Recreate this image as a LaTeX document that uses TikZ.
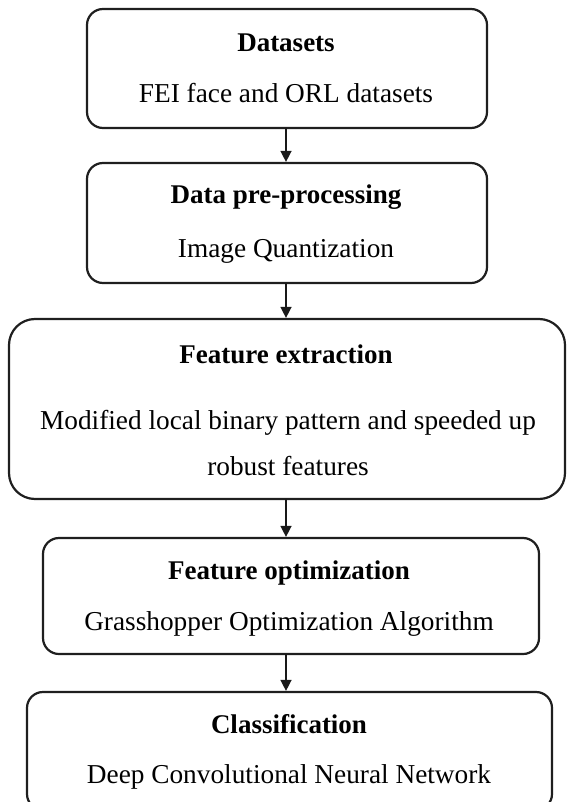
\documentclass[tikz,border=0pt]{standalone}
\usepackage{fontspec}
\setmainfont{Liberation Serif}
\usetikzlibrary{arrows.meta}
\begin{document}
\begin{tikzpicture}[x=1pt,y=-1pt,
  box/.style={draw=black!88, line width=2.2pt, rounded corners=16pt, inner sep=0pt},
  ttl/.style={anchor=base, font=\fontsize{27}{31}\selectfont\bfseries, inner sep=0pt},
  sub/.style={anchor=base, font=\fontsize{27.3}{31}\selectfont, inner sep=0pt},
  arr/.style={draw=black!90, line width=1.4pt, -{Triangle[length=11pt,width=11pt]}}]
\useasboundingbox (0,0) rectangle (566,802);
% boxes
\node[box, minimum width=400pt, minimum height=119pt] (b1) at (287,68.5) {};
\node[box, minimum width=400pt, minimum height=120pt] (b2) at (287,223) {};
\node[box, rounded corners=26pt, minimum width=556pt, minimum height=180pt] (b3) at (287,409) {};
\node[box, minimum width=496pt, minimum height=116pt] (b4) at (291,596) {};
\node[box, minimum width=525pt, minimum height=118pt] (b5) at (289.5,751) {};
% texts
\node[ttl] (t1) at (286,52) {Datasets};
\node[sub] (s1) at (286,103) {FEI face and ORL datasets};
\node[ttl] (t2) at (286,204) {Data pre-processing};
\node[sub] (s2) at (286,257) {Image Quantization};
\node[ttl] (t3) at (286,363) {Feature extraction};
\node[sub] (s3) at (288,429) {Modified local binary pattern and speeded up};
\node[sub] (s3b) at (288,475) {robust features};
\node[ttl] (t4) at (289,579) {Feature optimization};
\node[sub] (s4) at (289,630) {Grasshopper Optimization Algorithm};
\node[ttl] (t5) at (289,733) {Classification};
\node[sub] (s5) at (289,783) {Deep Convolutional Neural Network};
% arrows
\coordinate (a1) at (286,128);
\coordinate (a2) at (286,283);
\coordinate (a3) at (286,499);
\coordinate (a4) at (286,654);
\draw[arr] (a1) -- (a1 |- b2.north);
\draw[arr] (a2) -- (a2 |- b3.north);
\draw[arr] (a3) -- (a3 |- b4.north);
\draw[arr] (a4) -- (a4 |- b5.north);
\end{tikzpicture}
\end{document}
